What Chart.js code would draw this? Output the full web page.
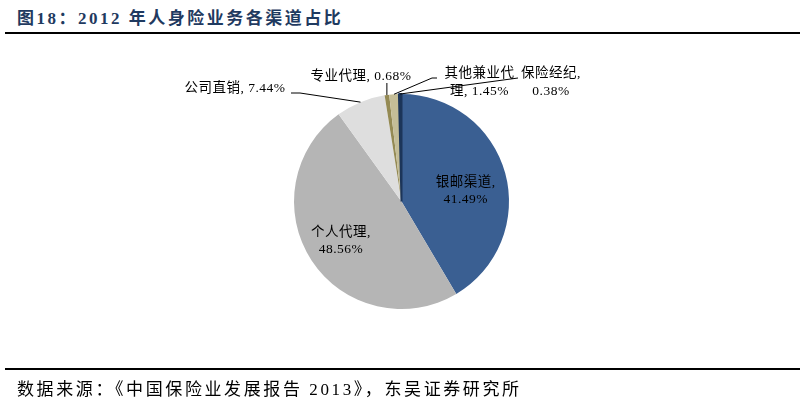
<!DOCTYPE html>
<html lang="zh">
<head>
    <meta charset="UTF-8">
    <title>2012 年人身险业务各渠道占比</title>
    <script src="https://cdn.jsdelivr.net/npm/chart.js"></script>
    <style>
        body { margin: 0; background: #fff; }
        .wrap { position: relative; width: 805px; height: 402px; overflow: hidden; }
        .title { position: absolute; left: 17px; top: 4px; font: bold 17px "Liberation Serif", "Noto Sans CJK SC", serif; letter-spacing: 2.5px; color: #1f3a60; }
        .rule { position: absolute; left: 5px; width: 795px; height: 2px; background: #000; }
        .source { position: absolute; left: 17px; top: 375px; font: 17px "Liberation Serif", "Noto Sans CJK SC", serif; letter-spacing: 2.6px; color: #000; }
        canvas { position: absolute; left: 0; top: 0; }
    </style>
</head>
<body>
<div class="wrap">
    <div class="title">图18：2012 年人身险业务各渠道占比</div>
    <div class="rule" style="top:32px"></div>
    <canvas id="pie" width="805" height="402"></canvas>
    <div class="rule" style="top:368px"></div>
    <div class="source">数据来源：《中国保险业发展报告 2013》，东吴证券研究所</div>
</div>
<script>
    // 渠道与占比（%）
    const channels = ['银邮渠道', '个人代理', '公司直销', '专业代理', '其他兼业代理', '保险经纪'];
    const shares = [41.49, 48.56, 7.44, 0.68, 1.45, 0.38];
    const labelLines = [
        ['银邮渠道,', '41.49%'],
        ['个人代理,', '48.56%'],
        ['公司直销, 7.44%'],
        ['专业代理, 0.68%'],
        ['其他兼业代', '理, 1.45%'],
        ['保险经纪,', '0.38%']
    ];
    const colors = ['#3a5f92', '#b5b5b5', '#dedede', '#948a54', '#c4bd97', '#1c3559'];

    // 标签摆放（相对饼心），inside: 沿中角放置；outside: 文字位置 + 引线折点
    const layout = [
        { inside: true, frac: 0.62, shift: [0, 7] },
        { inside: true, frac: 0.65, shift: [-2, 1] },
        { text: [-116, -113.5], align: 'right', bend: [[-110.5, -108.5], [-101.5, -108.5]] },
        { text: [-40.5, -125.5], align: 'center', bend: [['arc', -118.5]] },
        { text: [78, -128.5], align: 'center', bend: [[35.5, -123.5], [30.5, -123.5]] },
        { text: [149.5, -128.5], align: 'center', bend: [[116.5, -123.5]] }
    ];
    const lineGap = 17;
    const labelFont = '13.5px "Liberation Serif", "Noto Sans CJK SC", serif';

    const pieLabels = {
        id: 'pieLabels',
        afterDatasetsDraw(chart) {
            const ctx = chart.ctx;
            const arcs = chart.getDatasetMeta(0).data;
            ctx.save();
            ctx.font = labelFont;
            ctx.letterSpacing = '0.5px';
            ctx.fillStyle = '#000';
            ctx.strokeStyle = '#000';
            ctx.lineWidth = 1;
            ctx.textBaseline = 'middle';
            arcs.forEach((arc, i) => {
                const p = arc.getProps(['x', 'y', 'startAngle', 'endAngle', 'outerRadius']);
                const mid = (p.startAngle + p.endAngle) / 2;
                const L = layout[i];
                const lines = labelLines[i];
                if (L.inside) {
                    const r = p.outerRadius * L.frac;
                    const cx = p.x + Math.cos(mid) * r + L.shift[0];
                    const cy = p.y + Math.sin(mid) * r + L.shift[1];
                    ctx.textAlign = 'center';
                    lines.forEach((t, k) => {
                        ctx.fillText(t, cx, cy + (k - (lines.length - 1) / 2) * lineGap);
                    });
                    return;
                }
                const ax = p.x + Math.cos(mid) * p.outerRadius;
                const ay = p.y + Math.sin(mid) * p.outerRadius;
                ctx.beginPath();
                L.bend.forEach((b, k) => {
                    const bx = b[0] === 'arc' ? ax : p.x + b[0];
                    const by = p.y + b[1];
                    if (k === 0) ctx.moveTo(bx, by); else ctx.lineTo(bx, by);
                });
                ctx.lineTo(ax, ay);
                ctx.stroke();
                ctx.textAlign = L.align;
                lines.forEach((t, k) => {
                    ctx.fillText(t, p.x + L.text[0], p.y + L.text[1] + k * (lineGap + 1));
                });
            });
            ctx.restore();
        }
    };

    new Chart(document.getElementById('pie'), {
        type: 'pie',
        data: {
            labels: channels,
            datasets: [{
                data: shares,
                backgroundColor: colors,
                borderColor: colors,
                borderWidth: [0, 0, 0, 0, 0, 2]
            }]
        },
        options: {
            responsive: false,
            animation: false,
            layout: { padding: { left: 293, right: 295, top: 93, bottom: 92 } },
            plugins: {
                legend: { display: false },
                tooltip: { enabled: false }
            }
        },
        plugins: [pieLabels]
    });
</script>
</body>
</html>
